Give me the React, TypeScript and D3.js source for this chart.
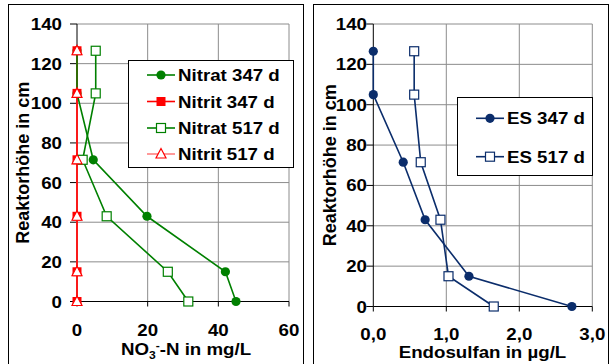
import React from "react";
import * as d3 from "d3";

// Reaktorhöhe (cm) der Messpunkte
const heights = [126.5, 105, 71.5, 43, 15, 0];

// linkes Diagramm: NO3-N / NO2-N in mg/L
const nitrat347 = [0, 0, 4.6, 19.8, 42, 45];
const nitrit347 = [0, 0, 0, 0, 0, 0];
const nitrat517 = [5.3, 5.3, 1.6, 8.4, 25.7, 31.5];
const nitrit517 = [0, 0, 0, 0, 0, 0];

// rechtes Diagramm: Endosulfan in µg/L
const es347 = [0, 0, 0.41, 0.71, 1.31, 2.72];
const es517 = [0.56, 0.56, 0.65, 0.92, 1.03, 1.65];

const yTicks = [0, 20, 40, 60, 80, 100, 120, 140];
const xTicksLeft = [0, 20, 40, 60];
const xTicksRight = [0, 1, 2, 3];

const FONT = "'Liberation Sans', Arial, sans-serif";
const SX = 1.1; // Text ist im Original etwas breit gezogen

type Marker = "circle" | "square" | "openSquare" | "openTriangle";
type Series = { name: string; values: number[]; color: string; lineColor: string; marker: Marker };

const leftSeries: Series[] = [
    {name: "Nitrat 347 d", values: nitrat347, color: "#008000", lineColor: "#008000", marker: "circle"},
    {name: "Nitrit 347 d", values: nitrit347, color: "#ff0000", lineColor: "#ff0000", marker: "square"},
    {name: "Nitrat 517 d", values: nitrat517, color: "#008000", lineColor: "#008000", marker: "openSquare"},
    {name: "Nitrit 517 d", values: nitrit517, color: "#ff0000", lineColor: "#ff8080", marker: "openTriangle"},
];

const rightSeries: Series[] = [
    {name: "ES 347 d", values: es347, color: "#0b2d6b", lineColor: "#0b2d6b", marker: "circle"},
    {name: "ES 517 d", values: es517, color: "#0b2d6b", lineColor: "#0b2d6b", marker: "openSquare"},
];

const MarkerShape = ({type, x, y, color}: { type: Marker; x: number; y: number; color: string }) => {
    if (type === "circle") return <circle cx={x} cy={y} r={4.6} fill={color}/>;
    if (type === "square") return <rect x={x - 4.5} y={y - 4.5} width={9} height={9} fill={color}/>;
    if (type === "openSquare")
        return <rect x={x - 4.5} y={y - 4.5} width={9} height={9} fill="white" stroke={color} strokeWidth={1.2}/>;
    const p = d3.path();
    p.moveTo(x, y - 5.5);
    p.lineTo(x + 5, y + 4);
    p.lineTo(x - 5, y + 4);
    p.closePath();
    return <path d={p.toString()} fill="white" stroke={color} strokeWidth={1.2}/>;
};

const SText = ({x, y, anchor = "start", size = 17, children}: any) => (
    <text transform={`translate(${x},${y}) scale(${SX},1)`} textAnchor={anchor}
          fontFamily={FONT} fontWeight="bold" fontSize={size} fill="black">
        {children}
    </text>
);

type PanelProps = {
    frameX: number; frameW: number;
    plot: { x0: number; x1: number; y0: number; y1: number };
    xDomain: [number, number]; xTicks: number[]; fmt: (v: number) => string;
    series: Series[];
    legend: { x: number; y: number; w: number; h: number; rows: number[] };
    xLabelY: number; xTitle: React.ReactNode; xTitleX: number; xTitleY: number;
    yTitleX: number; yLabelRight: number;
};

const Panel = (props: PanelProps) => {
    const {plot, series, legend} = props;
    const x = d3.scaleLinear().domain(props.xDomain).range([plot.x0, plot.x1]);
    const y = d3.scaleLinear().domain([0, 140]).range([plot.y1, plot.y0]);
    const line = d3.line<number>()
        .x(d => x(d[0]))
        .y(d => y(d[1]));

    return (
        <g>
            <rect x={props.frameX + 0.5} y={4.5} width={props.frameW} height={380} fill="white" stroke="black"
                  strokeWidth={1}/>
            {/* Gitter */}
            {yTicks.filter(t => t > 0).map(t => (
                <line key={"gy" + t} x1={plot.x0} x2={plot.x1} y1={y(t)} y2={y(t)} stroke="#8c8c8c"/>
            ))}
            {props.xTicks.filter(t => t > 0).map(t => (
                <line key={"gx" + t} x1={x(t)} x2={x(t)} y1={plot.y0} y2={plot.y1} stroke="#8c8c8c"/>
            ))}
            {/* Achsen */}
            <line x1={plot.x0} x2={plot.x0} y1={plot.y0} y2={plot.y1} stroke="black"/>
            <line x1={plot.x0} x2={plot.x1} y1={plot.y1} y2={plot.y1} stroke="black"/>
            {yTicks.map(t => (
                <g key={"ty" + t}>
                    <line x1={plot.x0 - 7} x2={plot.x0} y1={y(t)} y2={y(t)} stroke="black"/>
                    <SText x={props.yLabelRight} y={y(t) + 6} anchor="end">{t}</SText>
                </g>
            ))}
            {props.xTicks.map(t => (
                <g key={"tx" + t}>
                    <line x1={x(t)} x2={x(t)} y1={plot.y1} y2={plot.y1 + 5} stroke="black"/>
                    <SText x={x(t)} y={props.xLabelY} anchor="middle">{props.fmt(t)}</SText>
                </g>
            ))}
            {/* Linien */}
            {[...series].reverse().map(s => (
                <path key={"l" + s.name}
                      d={line(s.values.map((v, i) => [v, heights[i]] as any) as any) || ""}
                      fill="none" stroke={s.lineColor} strokeWidth={1.6}/>
            ))}
            {series.map(s => s.values.map((v, i) => (
                <MarkerShape key={s.name + i} type={s.marker} x={x(v)} y={y(heights[i])} color={s.color}/>
            )))}
            {/* Legende */}
            <rect x={legend.x + 0.5} y={legend.y + 0.5} width={legend.w} height={legend.h} fill="white"
                  stroke="black"/>
            {series.map((s, i) => {
                const ry = legend.rows[i];
                const lx = legend.x + 19;
                return (
                    <g key={"lg" + s.name}>
                        <line x1={lx} x2={lx + 28} y1={ry} y2={ry} stroke={s.lineColor} strokeWidth={1.6}/>
                        <MarkerShape type={s.marker} x={lx + 14} y={ry} color={s.color}/>
                        <SText x={lx + 31} y={ry + 6}>{s.name}</SText>
                    </g>
                );
            })}
            {/* Achsentitel */}
            <SText x={props.xTitleX} y={props.xTitleY} anchor="middle">{props.xTitle}</SText>
            <text transform={`translate(${props.yTitleX},${(plot.y0 + plot.y1) / 2}) rotate(-90)`}
                  textAnchor="middle" fontFamily={FONT} fontWeight="bold" fontSize={18}>
                Reaktorhöhe in cm
            </text>
        </g>
    );
};

const App = () => (
    <svg width={615} height={364} style={{position: "absolute", left: 0, top: 0, background: "white"}}>
        <Panel frameX={8} frameW={295}
               plot={{x0: 77, x1: 289, y0: 24, y1: 301.5}}
               xDomain={[0, 60]} xTicks={xTicksLeft} fmt={v => String(v)}
               series={leftSeries}
               legend={{x: 128, y: 60, w: 165, h: 107, rows: [75, 101.5, 128, 154]}}
               xLabelY={336}
               xTitle={<>NO<tspan dy={4} fontSize={11}>3</tspan><tspan dy={-10} fontSize={11}>-</tspan><tspan
                   dy={6}>-N in mg/L</tspan></>}
               xTitleX={186} xTitleY={355}
               yTitleX={29} yLabelRight={62}/>
        <Panel frameX={313} frameW={295}
               plot={{x0: 373.3, x1: 592.3, y0: 24, y1: 306.5}}
               xDomain={[0, 3]} xTicks={xTicksRight} fmt={v => v.toFixed(1).replace(".", ",")}
               series={rightSeries}
               legend={{x: 457, y: 97, w: 135, h: 78, rows: [118.3, 156.7]}}
               xLabelY={340}
               xTitle={"Endosulfan in µg/L"}
               xTitleX={482.5} xTitleY={358}
               yTitleX={336} yLabelRight={367}/>
    </svg>
);

export default App;
